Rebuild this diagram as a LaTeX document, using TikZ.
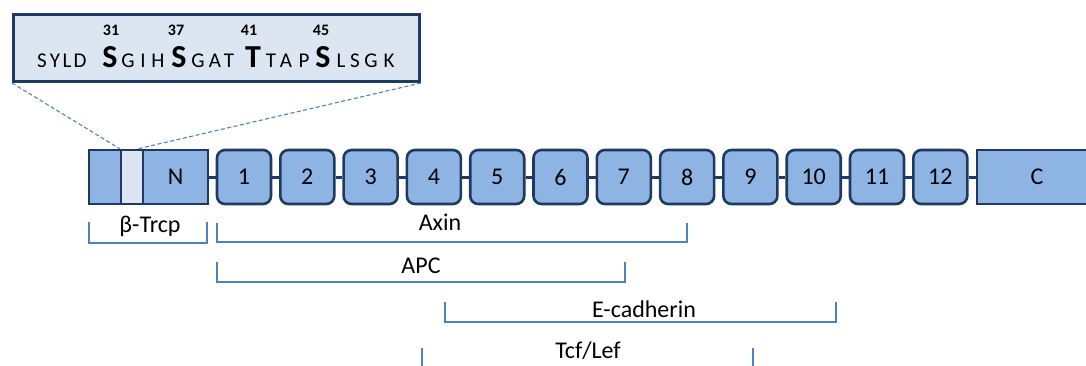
\documentclass[tikz,border=0pt]{standalone}
\usepackage{fontspec}
\setmainfont{Carlito}
\definecolor{fillb}{HTML}{8EB4E3}
\definecolor{dark}{HTML}{1F3A60}
\definecolor{pale}{HTML}{DCE6F2}
\definecolor{brk}{HTML}{4F81BD}
\begin{document}
\begin{tikzpicture}[x=1pt,y=-1pt,
  dom/.style={draw=dark, fill=fillb, line width=2.6pt, rounded corners=8pt,
    minimum width=54pt, minimum height=54pt, inner sep=0pt,
    font=\fontsize{24}{24}\selectfont},
  sq/.style={draw=dark, line width=2.6pt, inner sep=0pt, minimum height=54pt,
    font=\fontsize{24}{24}\selectfont},
  conn/.style={draw=dark, line width=3pt},
  bracket/.style={draw=brk, line width=1.3pt},
  lbl/.style={anchor=base, inner sep=0pt, font=\fontsize{24}{24}\selectfont},
  seqs/.style={anchor=base, inner sep=0pt, font=\fontsize{21}{21}\selectfont},
  seqb/.style={anchor=base, inner sep=0pt, font=\fontsize{32}{32}\selectfont\bfseries},
  num/.style={anchor=base, inner sep=0pt, font=\fontsize{16}{16}\selectfont\bfseries},
  zoomline/.style={draw=brk, line width=1.1pt, dash pattern=on 4pt off 2.5pt}]
\useasboundingbox (0,0) rectangle (1086,365);
% N-terminal part
\node[sq, fill=fillb, minimum width=32pt] (nl) at (105,177) {};
\node[sq, fill=pale, minimum width=22pt] (strip) at (132,177) {};
\node[sq, fill=fillb, minimum width=65pt] (nbox) at (175.5,177) {N};
% repeats
\foreach \i in {1,...,12}
  \node[dom] (b\i) at ({244+(\i-1)*63.3},177) {\i};
% C-terminal
\node[sq, fill=fillb, minimum width=120pt] (cbox) at (1037,177) {C};
% connectors
\draw[conn] (nbox.east) -- (b1.west);
\foreach \i [count=\j from 2] in {1,...,11}
  \draw[conn] (b\i.east) -- (b\j.west);
\draw[conn] (b12.east) -- (cbox.west);
% inset
\node[draw=dark, fill=pale, line width=3pt, minimum width=406pt, minimum height=67pt, inner sep=0pt] (ins) at (216.5,48) {};
\foreach \x/\c [count=\k] in {42/S,55/Y,67/L,80/D,128/G,143/I,158/H,198/G,215/A,229/T,271/T,286/A,304/P,341/L,355/S,371/G,389/K}
  \node[seqs] (s\k) at (\x,67) {\c};
\node[seqb] (bs31) at (110,67) {S};
\node[seqb] (bs37) at (179,67) {S};
\node[seqb] (bt41) at (253,67) {T};
\node[seqb] (bs45) at (323,67) {S};
\node[num] (n31) at (111,35) {31};
\node[num] (n37) at (176,35) {37};
\node[num] (n41) at (249,35) {41};
\node[num] (n45) at (321,35) {45};
\coordinate (sr) at (137,149);
\draw[zoomline] (ins.south west) -- (strip.north west);
\draw[zoomline] (ins.south east) -- (sr);
% brackets
\draw[bracket] (89,222) -- (89,243) -- (207,243) -- (207,222);
\node[lbl] (ltrcp) at (150,232) {β-Trcp};
\draw[bracket] (217,223) -- (217,242) -- (687,242) -- (687,223);
\node[lbl] (laxin) at (440,230) {Axin};
\draw[bracket] (217,262) -- (217,282) -- (625,282) -- (625,262);
\node[lbl] (lapc) at (421,273) {APC};
\draw[bracket] (445,302) -- (445,322) -- (836,322) -- (836,302);
\node[lbl] (lecad) at (644,317) {E-cadherin};
\draw[bracket] (422,348) -- (422,368);
\draw[bracket] (753,348) -- (753,368);
\node[lbl] (ltcf) at (588,358) {Tcf/Lef};
\end{tikzpicture}
\end{document}
